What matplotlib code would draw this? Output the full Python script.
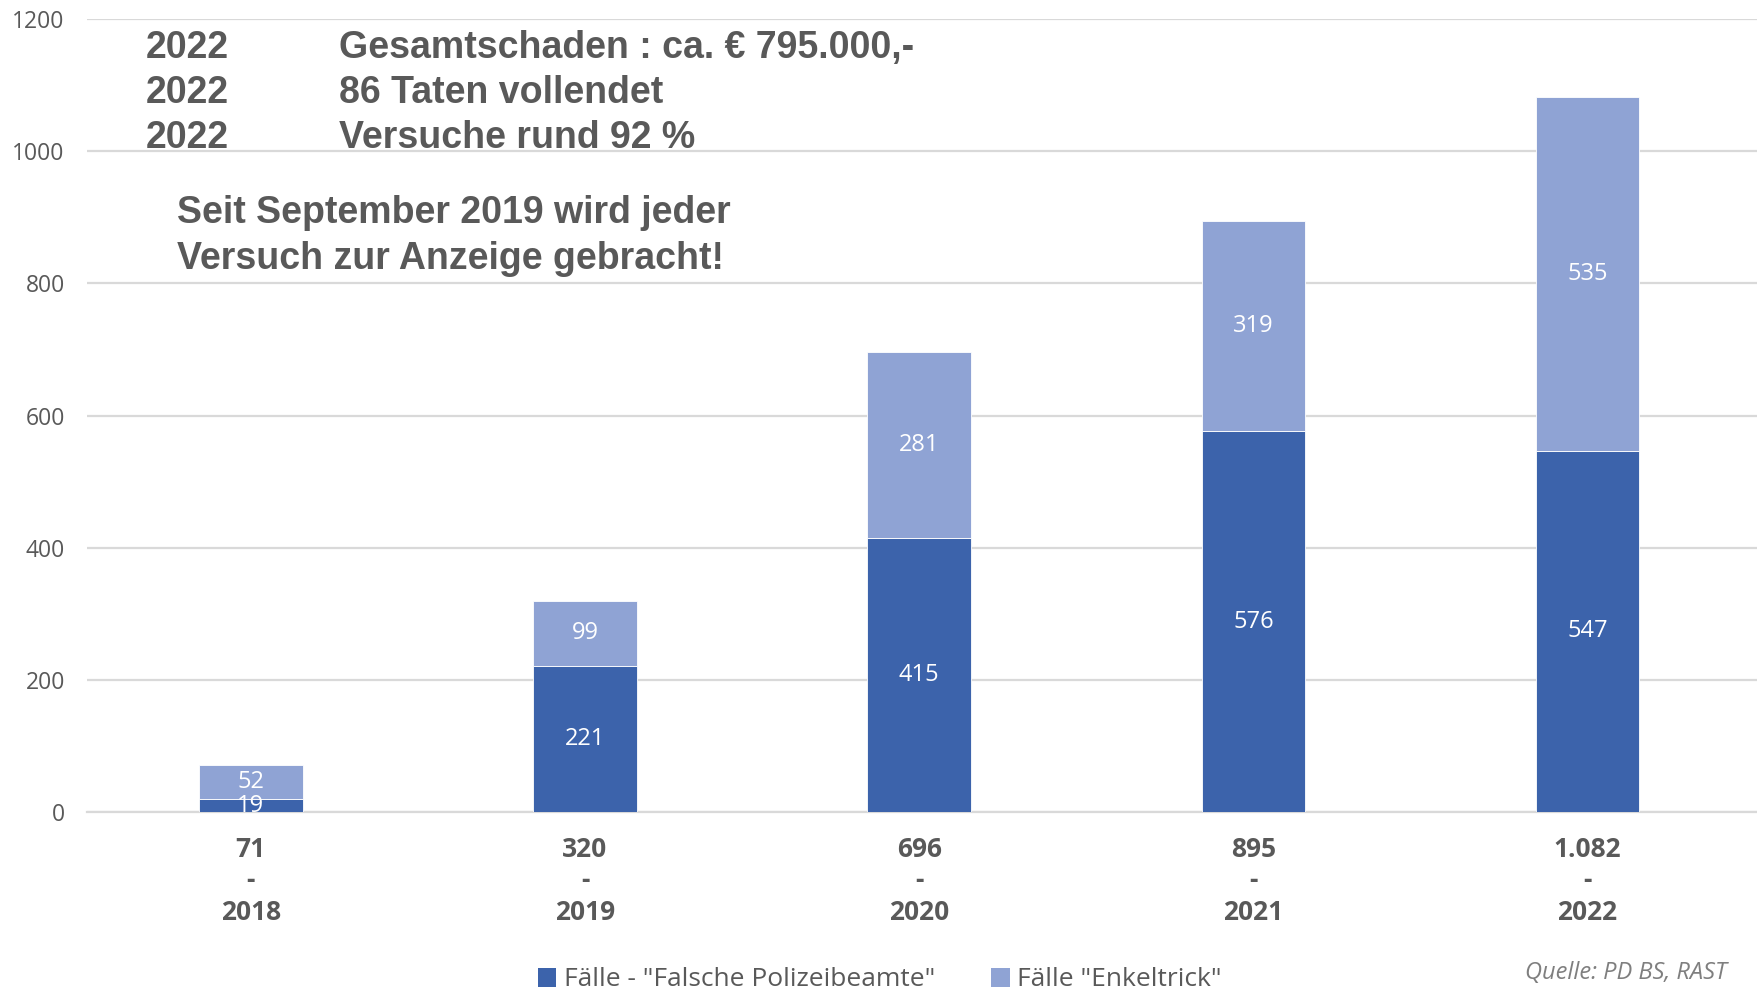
import matplotlib
matplotlib.use("Agg")
import matplotlib.pyplot as plt
from matplotlib.patches import Patch

years = ["2018", "2019", "2020", "2021", "2022"]
polizei = [19, 221, 415, 576, 547]
enkel = [52, 99, 281, 319, 535]
series_names = ['Fälle - "Falsche Polizeibeamte"', 'Fälle "Enkeltrick"']
yticks = [0, 200, 400, 600, 800, 1000, 1200]

info_years = ["2022", "2022", "2022"]
info_texts = ["Gesamtschaden : ca. € 795.000,-", "86 Taten vollendet", "Versuche rund 92 %"]
note_text = "Seit September 2019 wird jeder\nVersuch zur Anzeige gebracht!"
source_text = "Quelle: PD BS, RAST"

DARK = "#3C63AB"
LIGHT = "#8FA3D4"
GRAY = "#595959"
GRID = "#D9D9D9"

W, H = 1758, 991
fig = plt.figure(figsize=(W / 100, H / 100), dpi=100)
ax = fig.add_axes([87 / W, 1 - 812 / H, 1 - 87 / W, (812 - 19) / H])

x = list(range(len(years)))
bw = 0.31
ax.bar(x, polizei, width=bw, color=DARK, edgecolor="white", linewidth=0.6, zorder=3)
ax.bar(x, enkel, width=bw, bottom=polizei, color=LIGHT, edgecolor="white", linewidth=0.6, zorder=3)

for i in x:
    ax.text(i, polizei[i] / 2, str(polizei[i]), ha="center", va="center",
            color="white", fontsize=17, family="Open Sans", zorder=4)
    ax.text(i, polizei[i] + enkel[i] / 2, str(enkel[i]), ha="center", va="center",
            color="white", fontsize=17, family="Open Sans", zorder=4)

ax.set_xlim(-0.49, 4.51)
ax.set_ylim(0, 1200)
ax.set_yticks(yticks)
ax.set_yticklabels([str(v) for v in yticks], family="Open Sans", fontsize=16.5, color=GRAY)
ax.yaxis.grid(True, color=GRID, linewidth=1.6, zorder=0)
ax.set_axisbelow(True)
for s in ["left", "right", "top"]:
    ax.spines[s].set_visible(False)
ax.spines["bottom"].set_color(GRID)
ax.spines["bottom"].set_linewidth(1.6)
ax.tick_params(axis="y", length=0, pad=16)
ax.tick_params(axis="x", length=0, pad=17)

totals = [p + e for p, e in zip(polizei, enkel)]
xlabels = [f"{t:,}".replace(",", ".") + "\n-\n" + y for t, y in zip(totals, years)]
ax.set_xticks(x)
ax.set_xticklabels(xlabels, family="Open Sans", fontweight="bold", fontsize=19,
                   color=GRAY, linespacing=1.23)

# info text block
for k, (yr, tx) in enumerate(zip(info_years, info_texts)):
    yy = 1 - (48 + 45 * k) / H
    fig.text(146 / W, yy, yr, family="Liberation Sans", fontweight="bold", fontsize=27,
             color=GRAY, va="center", ha="left")
    fig.text(339 / W, yy, tx, family="Liberation Sans", fontweight="bold", fontsize=27,
             color=GRAY, va="center", ha="left")
fig.text(177 / W, 1 - 236 / H, note_text, family="Liberation Sans", fontweight="bold",
         fontsize=27, color=GRAY, va="center", ha="left", linespacing=1.36)

handles = [Patch(facecolor=DARK), Patch(facecolor=LIGHT)]
fig.legend(handles, series_names, loc="center", bbox_to_anchor=(880 / W, 1 - 980 / H),
           ncol=2, frameon=False, prop={"family": "Open Sans", "size": 19},
           labelcolor=GRAY, handlelength=0.7, handleheight=0.7, handletextpad=0.3,
           columnspacing=2.1)

fig.text(1727 / W, 1 - 973 / H, source_text, family="Open Sans", style="italic",
         fontsize=17, color="#7F7F7F", ha="right", va="center")

fig.savefig("out.png", dpi=100)
